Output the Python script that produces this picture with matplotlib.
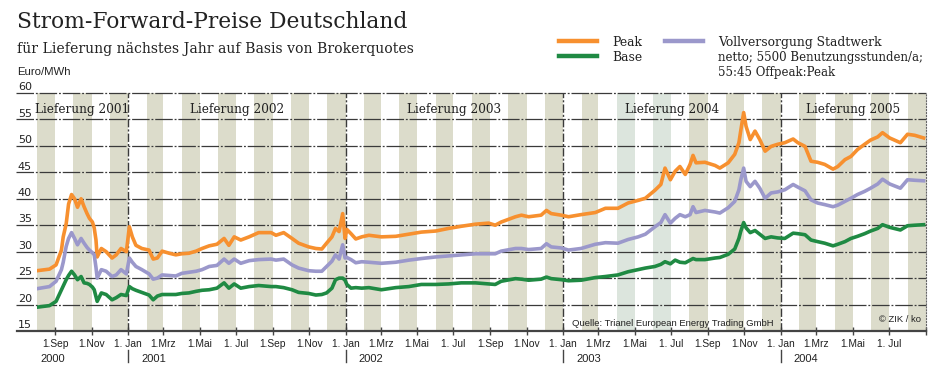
import matplotlib
matplotlib.use("Agg")
import matplotlib.pyplot as plt
import matplotlib.transforms as mtransforms
from matplotlib.lines import Line2D
import pandas as pd

# ---------------- data ----------------
dates = [
    "2000-08-01", "2000-08-22", "2000-09-02", "2000-09-11", "2000-09-14", "2000-09-19",
    "2000-09-23", "2000-09-28", "2000-10-03", "2000-10-08", "2000-10-14", "2000-10-19",
    "2000-10-24", "2000-10-28", "2000-11-02", "2000-11-05", "2000-11-08", "2000-11-10",
    "2000-11-17", "2000-11-25", "2000-12-05", "2000-12-12", "2000-12-20", "2000-12-29",
    "2001-01-03", "2001-01-08", "2001-01-14", "2001-01-24", "2001-02-05", "2001-02-12",
    "2001-02-19", "2001-02-27", "2001-03-11", "2001-03-22", "2001-04-01", "2001-04-13",
    "2001-04-25", "2001-05-05", "2001-05-17", "2001-05-30", "2001-06-11", "2001-06-19",
    "2001-06-28", "2001-07-09", "2001-07-23", "2001-08-08", "2001-08-29", "2001-09-06",
    "2001-09-19", "2001-10-03", "2001-10-14", "2001-10-31", "2001-11-12", "2001-11-22",
    "2001-11-30", "2001-12-09", "2001-12-15", "2001-12-21", "2001-12-27", "2001-12-31",
    "2002-01-03", "2002-01-10", "2002-01-18", "2002-01-28", "2002-02-09", "2002-03-02",
    "2002-03-26", "2002-04-17", "2002-05-08", "2002-06-01", "2002-06-23", "2002-07-14",
    "2002-08-07", "2002-08-29", "2002-09-09", "2002-09-19", "2002-10-13", "2002-10-23",
    "2002-11-04", "2002-11-25", "2002-12-04", "2002-12-12", "2002-12-29", "2003-01-10",
    "2003-01-31", "2003-02-24", "2003-03-13", "2003-04-03", "2003-04-20", "2003-05-07",
    "2003-05-19", "2003-06-04", "2003-06-14", "2003-06-21", "2003-06-30", "2003-07-08",
    "2003-07-16", "2003-07-25", "2003-08-02", "2003-08-07", "2003-08-12", "2003-08-27",
    "2003-09-13", "2003-09-21", "2003-10-05", "2003-10-16", "2003-10-23", "2003-10-26",
    "2003-10-31", "2003-11-04", "2003-11-11", "2003-11-19", "2003-11-27", "2003-12-06",
    "2003-12-16", "2003-12-27", "2004-01-08", "2004-01-22", "2004-01-30", "2004-02-11",
    "2004-02-21", "2004-03-03", "2004-03-15", "2004-03-29", "2004-04-06", "2004-04-18",
    "2004-04-28", "2004-05-09", "2004-05-21", "2004-05-31", "2004-06-12", "2004-06-20",
    "2004-07-02", "2004-07-20", "2004-08-01", "2004-08-13", "2004-08-28",
]

peak = [
    26.4, 26.7, 27.5, 30.3, 32.8, 35.3, 39.0, 40.8, 40.0, 38.4, 40.0, 38.5,
    37.2, 36.3, 35.6, 34.5, 32.2, 29.0, 30.6, 30.0, 28.8, 29.4, 30.6, 30.0,
    34.7, 32.8, 31.2, 30.6, 30.3, 28.6, 28.8, 30.1, 29.7, 29.4, 29.6, 29.7,
    30.1, 30.6, 31.1, 31.4, 32.5, 31.2, 32.8, 32.2, 32.8, 33.6, 33.6, 33.1,
    33.6, 32.5, 31.6, 30.9, 30.6, 30.5, 31.6, 32.8, 34.4, 33.8, 37.2, 32.5,
    34.2, 33.4, 32.4, 32.8, 33.1, 32.8, 32.9, 33.3, 33.7, 33.9, 34.4, 34.8,
    35.2, 35.4, 35.0, 35.6, 36.6, 36.9, 36.6, 36.9, 37.8, 37.2, 36.9, 36.6,
    37.0, 37.4, 38.2, 38.2, 39.2, 39.7, 40.1, 41.6, 42.7, 45.8, 43.6, 45.2,
    46.1, 44.6, 46.5, 48.2, 46.8, 46.9, 46.3, 45.8, 46.8, 48.4, 50.6, 52.8,
    56.3, 53.7, 51.2, 52.8, 51.2, 49.0, 49.9, 50.3, 50.6, 51.3, 50.6, 49.9,
    47.1, 46.9, 46.5, 45.6, 46.1, 47.4, 48.0, 49.3, 50.3, 51.1, 51.7, 52.5,
    51.5, 50.6, 52.2, 52.0, 51.5,
]

vollversorgung = [
    23.0, 23.4, 24.4, 26.6, 28.0, 31.0, 32.5, 33.6, 32.5, 31.3, 32.5, 31.6,
    30.8, 30.3, 29.8, 29.4, 27.0, 25.0, 26.6, 26.3, 25.3, 25.6, 26.6, 25.8,
    28.8, 28.0, 27.2, 26.6, 25.8, 24.8, 25.0, 25.6, 25.5, 25.4, 25.9, 26.1,
    26.3, 26.6, 27.2, 27.4, 28.6, 27.8, 28.6, 27.8, 28.3, 28.5, 28.6, 28.4,
    28.6, 27.5, 26.9, 26.4, 26.3, 26.3, 27.2, 28.2, 29.4, 28.6, 31.3, 28.8,
    28.9, 28.5, 27.9, 28.1, 28.0, 27.8, 28.0, 28.4, 28.7, 29.0, 29.2, 29.4,
    29.6, 29.6, 29.6, 30.1, 30.6, 30.6, 30.4, 30.6, 31.5, 30.9, 30.7, 30.3,
    30.6, 31.4, 31.7, 31.6, 32.3, 32.8, 33.3, 34.7, 35.5, 37.0, 35.4, 36.3,
    37.0, 36.6, 37.0, 38.5, 37.4, 37.8, 37.5, 37.3, 38.3, 39.5, 41.7, 43.5,
    45.8, 43.3, 42.3, 43.3, 42.0, 40.1, 41.1, 41.3, 41.7, 42.7, 42.2, 41.5,
    39.8, 39.2, 38.9, 38.5, 38.8, 39.5, 40.1, 40.8, 41.4, 42.0, 42.8, 43.7,
    42.8, 42.0, 43.6, 43.5, 43.4,
]

base = [
    19.5, 19.8, 20.6, 22.8, 23.5, 24.7, 25.5, 26.3, 25.6, 24.7, 25.3, 24.1,
    24.0, 23.8, 23.3, 22.8, 21.5, 20.6, 22.2, 21.9, 20.9, 21.3, 21.9, 21.7,
    23.4, 23.0, 22.7, 22.3, 21.8, 20.9, 21.6, 21.9, 21.9, 21.9, 22.1, 22.2,
    22.5, 22.7, 22.8, 23.1, 24.1, 23.1, 23.9, 23.1, 23.4, 23.6, 23.4, 23.4,
    23.2, 22.8, 22.3, 22.1, 21.8, 21.9, 22.2, 23.1, 24.7, 25.0, 25.0, 24.6,
    23.8, 23.1, 23.2, 23.1, 23.2, 22.8, 23.2, 23.4, 23.8, 23.8, 23.9, 24.1,
    24.1, 23.9, 23.8, 24.4, 24.9, 24.8, 24.6, 24.8, 25.2, 24.9, 24.7, 24.5,
    24.6, 25.1, 25.3, 25.6, 26.2, 26.6, 26.9, 27.2, 27.6, 28.1, 27.7, 28.4,
    28.0, 27.9, 28.4, 28.7, 28.5, 28.5, 28.8, 28.9, 29.5, 30.5, 32.5, 33.8,
    35.5, 34.5, 33.6, 34.0, 33.3, 32.5, 32.8, 32.6, 32.5, 33.5, 33.4, 33.2,
    32.2, 31.9, 31.6, 31.1, 31.4, 31.9, 32.5, 32.9, 33.4, 33.9, 34.4, 35.1,
    34.6, 34.1, 34.9, 35.0, 35.1,
]

series_labels = ["Peak", "Base", "Vollversorgung Stadtwerk\nnetto; 5500 Benutzungsstunden/a;\n55:45 Offpeak:Peak"]
delivery_labels = ["Lieferung 2001", "Lieferung 2002", "Lieferung 2003", "Lieferung 2004", "Lieferung 2005"]
month_labels = {1: "1. Jan", 3: "1.Mrz", 5: "1.Mai", 7: "1. Jul", 9: "1.Sep", 11: "1.Nov"}
year_labels = ["2000", "2001", "2002", "2003", "2004"]
y_ticks = [15, 20, 25, 30, 35, 40, 45, 50, 55, 60]

# ---------------- styling ----------------
C_PEAK = "#f7902f"
C_VOLL = "#9b98cb"
C_BASE = "#1f8a43"
C_STRIPE = "#dcdccb"
C_STRIPE_G = "#dce5dd"
C_GRID = "#3a3a3a"
C_TEXT = "#222222"
SERIF = ["DejaVu Serif"]
NARROW = ["Liberation Sans Narrow", "Liberation Sans", "DejaVu Sans"]
SANS = ["Liberation Sans", "DejaVu Sans"]

W, H = 943, 379
fig = plt.figure(figsize=(W / 100, H / 100), dpi=100)
fig.patch.set_facecolor("white")
ax = fig.add_axes([37 / W, 48 / H, 889 / W, 238 / H])

d = pd.to_datetime(dates)
x0, x1 = pd.Timestamp("2000-08-01"), pd.Timestamp("2004-09-01")
ax.set_xlim(x0, x1)
ax.set_ylim(15, 60)

# alternating month stripes (even months shaded)
m = x0
while m < x1:
    nxt = m + pd.offsets.MonthBegin(1)
    if m.month % 2 == 0:
        col = C_STRIPE_G if (m.year == 2003 and m.month in (4, 6)) else C_STRIPE
        ax.axvspan(m, nxt, color=col, lw=0, zorder=0.5)
    m = nxt

# horizontal grid lines with extension to the left
for v in y_ticks[1:]:
    ax.axhline(v, xmin=-0.024, xmax=1, clip_on=False, color=C_GRID, lw=0.9,
               ls=(0, (14, 1.5, 1.5, 1.5)), zorder=1.5)
ax.axhline(15, xmin=-0.022, xmax=1, clip_on=False, color="#444444", lw=1.6, zorder=3)

# y labels sitting on their lines
trans_y = mtransforms.blended_transform_factory(ax.transAxes, ax.transData)
for v in y_ticks:
    ax.text(-0.0215, v + 0.15, str(v), transform=trans_y, ha="left", va="bottom",
            fontsize=8, color=C_TEXT, family=["DejaVu Sans"])

# year boundary lines
for yr in [2001, 2002, 2003, 2004]:
    ax.axvline(pd.Timestamp(f"{yr}-01-01"), color="#3a3a3a", lw=1.0,
               ls=(0, (6, 1.5, 1.5, 1.5)), zorder=1.6)

# data lines
ax.plot(d, peak, color=C_PEAK, lw=2.6, zorder=4, solid_joinstyle="round")
ax.plot(d, vollversorgung, color=C_VOLL, lw=2.6, zorder=4, solid_joinstyle="round")
ax.plot(d, base, color=C_BASE, lw=2.6, zorder=4, solid_joinstyle="round")

# spines
for s in ["top", "left", "bottom"]:
    ax.spines[s].set_visible(False)
ax.spines["right"].set_linestyle(":")
ax.spines["right"].set_color("#666666")
ax.spines["right"].set_linewidth(0.8)

# x ticks
ticks = []
m = pd.Timestamp("2000-09-01")
while m <= x1:
    ticks.append(m)
    m = m + pd.offsets.MonthBegin(2)
ax.set_xticks(ticks)
ax.set_xticklabels([month_labels[t.month] if t < x1 else "" for t in ticks],
                   family=NARROW, fontsize=7.4, color=C_TEXT)
ax.tick_params(axis="x", direction="inout", length=6, width=1.0, color="#444444", pad=2.8)
ax.set_yticks([])

# year labels and separators
year_pos = [pd.Timestamp("2000-08-01"), pd.Timestamp("2001-01-01"), pd.Timestamp("2002-01-01"),
            pd.Timestamp("2003-01-01"), pd.Timestamp("2004-01-01")]
for i, (lab, p) in enumerate(zip(year_labels, year_pos)):
    off = 3 if i == 0 else 13
    ax.annotate(lab, xy=(p, 0), xycoords=("data", "axes fraction"),
                xytext=(off, -30.5), textcoords="offset pixels", ha="left", va="baseline",
                fontsize=8, color=C_TEXT, family=SANS, annotation_clip=False)
    if i > 0:
        ax.axvline(p, ymin=-31 / 238, ymax=-19 / 238, clip_on=False, color="#444444", lw=1.0)

# delivery year labels centred per segment
bounds = [x0, pd.Timestamp("2001-01-01"), pd.Timestamp("2002-01-01"),
          pd.Timestamp("2003-01-01"), pd.Timestamp("2004-01-01"), x1]
for i, lab in enumerate(delivery_labels):
    c = bounds[i] + (bounds[i + 1] - bounds[i]) / 2
    ax.text(c, 56.3, lab, ha="center", va="baseline", fontsize=8.7,
            family=SERIF, color=C_TEXT, zorder=5)

# source notes
ax.text(0.828, 15.95, "Quelle: Trianel European Energy Trading GmbH", transform=trans_y,
        ha="right", va="baseline", fontsize=6.8, family=NARROW, color=C_TEXT, zorder=5)
ax.text(0.994, 16.75, "© ZIK / ko", transform=trans_y, ha="right", va="baseline",
        fontsize=6.8, family=NARROW, color=C_TEXT, zorder=5)

# titles
def fy(py):
    return 1 - py / H

fig.text(17 / W, fy(28.5), "Strom-Forward-Preise Deutschland", fontsize=15.7,
         family=SERIF, color=C_TEXT, va="baseline", ha="left")
fig.text(17 / W, fy(53.3), "für Lieferung nächstes Jahr auf Basis von Brokerquotes",
         fontsize=10.1, family=SERIF, color=C_TEXT, va="baseline", ha="left")
fig.text(17 / W, fy(75), "Euro/MWh", fontsize=8.2, family=SANS,
         color=C_TEXT, va="baseline", ha="left")

# legend (manual, matching the reference layout)
legend_items = [(C_PEAK, series_labels[0], 559, 612, 41, 46),
                (C_BASE, series_labels[1], 559, 612, 56, 60.7),
                (C_VOLL, series_labels[2], 665, 718, 41, 46)]
for col, lab, lx, tx, ly, tb in legend_items:
    fig.add_artist(Line2D([lx / W, (lx + 38) / W], [fy(ly), fy(ly)], color=col, lw=3.2,
                          transform=fig.transFigure))
    lines = lab.split("\n")
    for k, line in enumerate(lines):
        fig.text(tx / W, fy(tb + 15 * k), line, fontsize=8.9 if k == 0 else 8.5,
                 family=SERIF, color=C_TEXT, va="baseline", ha="left")

fig.savefig("out.png", dpi=100, facecolor="white")
